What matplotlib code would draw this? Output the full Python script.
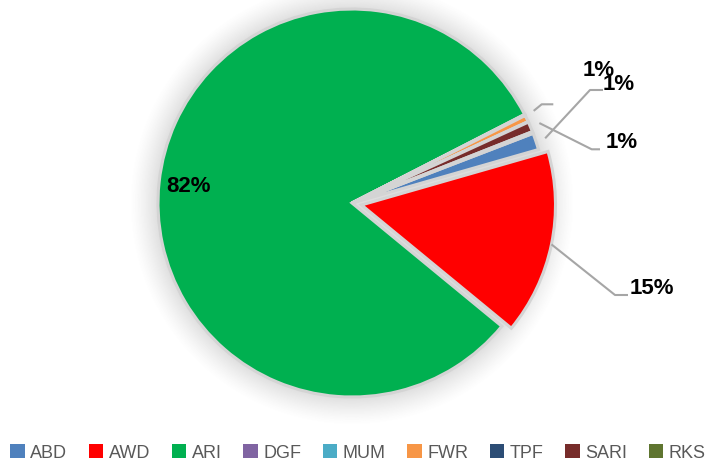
import numpy as np
import matplotlib
matplotlib.use("Agg")
import matplotlib.pyplot as plt
from matplotlib.patches import Patch

# Data
categories = ["ABD", "AWD", "ARI", "DGF", "MUM", "FWR", "TPF", "SARI", "RKS"]
shares = [1.4, 15.4, 81.5, 0.05, 0.05, 0.55, 0.05, 0.85, 0.15]
colors = ["#4f81bd", "#ff0000", "#00b050", "#8064a2", "#4bacc6",
          "#f79646", "#2c4d75", "#772c2a", "#5f7530"]
explode = [0, 0.05, 0, 0, 0, 0, 0, 0, 0]
label_texts = ["1%", "15%", "82%", "", "", "1%", "", "1%", ""]

W, H = 711, 466
CX, CY, R = 352, 203, 194  # pie centre / radius in pixels


def px(x, y):
    """pixel (from top-left) -> data coords"""
    return (x - CX) / R, (CY - y) / R


fig = plt.figure(figsize=(W / 100, H / 100), dpi=100)
ax = fig.add_axes([0, 0, 1, 1])

# soft glow behind the pie
xs = np.linspace(-CX / R, (W - CX) / R, 400)
ys = np.linspace(-(H - CY) / R, CY / R, 300)
gx, gy = np.meshgrid(xs, ys)
rr = np.sqrt(gx ** 2 + gy ** 2)
glow = np.clip(1 - (rr - 1.0) / 0.15, 0, 1) ** 1.3 * 0.22
rgba = np.zeros(gx.shape + (4,))
rgba[..., :3] = 0.4
rgba[..., 3] = glow
ax.imshow(rgba, extent=(xs[0], xs[-1], ys[0], ys[-1]), origin="lower",
          zorder=0, interpolation="bilinear")

wedges, _ = ax.pie(shares, colors=colors, explode=explode, startangle=21.04,
                   counterclock=False, radius=1,
                   wedgeprops=dict(edgecolor="#d4d4d4", linewidth=2.2, zorder=2))

lab_font = dict(fontsize=16, fontweight="bold", color="black",
                family=["Liberation Sans", "DejaVu Sans"])

# label placement: (text centre px, elbow px, end px) per slice index
placement = {
    0: ((619, 84), (590, 90), (603, 90)),
    1: ((652, 289), (615, 295), (628, 295)),
    2: ((188, 187), None, None),
    4: (None, (541.7, 104.3), (553.3, 104.3)),
    5: ((599, 70), None, None),
    7: ((622, 143), (591.7, 149.3), (600, 149.3)),
}

for i, (txt_px, elbow, end) in placement.items():
    w = wedges[i]
    mid = np.deg2rad((w.theta1 + w.theta2) / 2)
    cx0, cy0 = w.center
    if elbow is not None:
        r0 = 1.0 if i == 1 else 1.05
        sx, sy = cx0 + r0 * np.cos(mid), cy0 + r0 * np.sin(mid)
        ex, ey = px(*elbow)
        fx, fy = px(*end)
        ax.plot([sx, ex, fx], [sy, ey, fy], color="#a6a6a6", lw=1.5,
                zorder=3, solid_capstyle="butt")
    if txt_px is not None and label_texts[i]:
        tx, ty = px(*txt_px)
        ax.text(tx, ty, label_texts[i], ha="center", va="center",
                zorder=4, **lab_font)

ax.set_xlim(-CX / R, (W - CX) / R)
ax.set_ylim(-(H - CY) / R, CY / R)
ax.set_aspect("equal")
ax.axis("off")

handles = [Patch(facecolor=c, edgecolor="none") for c in colors]
leg = fig.legend(handles, categories, loc="center", bbox_to_anchor=(358 / W, 1 - 453 / H),
                 ncol=9, frameon=False, handlelength=0.8, handleheight=0.8,
                 handletextpad=0.3, columnspacing=1.2, borderaxespad=0,
                 prop=dict(size=13, family=["Liberation Sans", "DejaVu Sans"]))
for t in leg.get_texts():
    t.set_color("#595959")

fig.savefig("out.png", dpi=100, facecolor="white")
